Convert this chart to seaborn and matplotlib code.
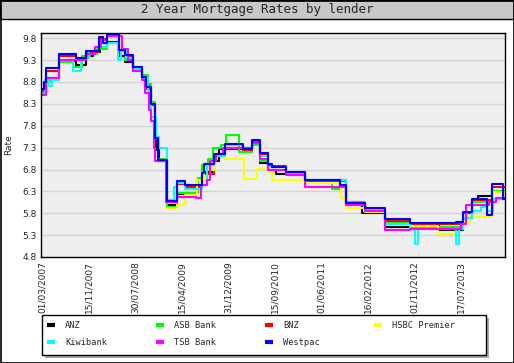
import pandas as pd
import matplotlib
matplotlib.use("Agg")
import matplotlib.pyplot as plt
from matplotlib.lines import Line2D
from matplotlib.patches import Rectangle
import seaborn as sns

# lenders and colours (legend order = drawing order)
lenders = ["ANZ", "ASB Bank", "BNZ", "HSBC Premier", "Kiwibank", "TSB Bank", "Westpac"]
colors = ["#000000", "#00ff00", "#ff0000", "#ffff00", "#00ffff", "#ff00ff", "#0000ff"]

# step series: date of rate change, new 2 year rate
anz_dates = ["2007-03-01", "2007-03-22", "2007-06-04", "2007-09-08", "2007-10-30", "2007-12-10",
             "2008-01-15", "2008-02-26", "2008-05-04", "2008-06-06", "2008-07-21", "2008-09-09",
             "2008-10-01", "2008-10-24", "2008-11-15", "2008-11-25", "2008-12-10", "2009-01-26",
             "2009-03-22", "2009-07-10", "2009-08-19", "2009-10-14", "2009-11-10", "2010-03-19",
             "2010-05-08", "2010-06-22", "2010-08-05", "2010-09-20", "2011-02-27", "2011-10-14",
             "2012-01-10", "2012-05-18", "2012-10-07", "2013-03-15", "2013-07-24", "2013-09-12",
             "2013-10-20", "2014-01-02", "2014-03-17"]
anz_rates = [8.55, 8.88, 9.27, 9.18, 9.40, 9.48,
             9.60, 9.72, 9.40, 9.25, 9.05, 8.92,
             8.70, 8.30, 7.50, 7.25, 7.02, 6.00,
             6.25, 6.55, 6.75, 7.00, 7.28, 7.30,
             7.40, 6.95, 6.78, 6.70, 6.55, 6.05,
             5.80, 5.48, 5.52, 5.42, 5.70, 6.05,
             6.20, 6.32, 6.32]

asb_dates = ["2007-03-01", "2007-03-22", "2007-04-15", "2007-06-04", "2007-08-20", "2007-10-10",
             "2007-11-20", "2008-01-01", "2008-02-26", "2008-05-04", "2008-06-06", "2008-07-21",
             "2008-09-09", "2008-10-10", "2008-10-24", "2008-11-20", "2008-12-02", "2009-01-26",
             "2009-03-22", "2009-07-15", "2009-08-08", "2009-09-10", "2009-10-05", "2009-11-20",
             "2009-12-20", "2010-03-01", "2010-05-08", "2010-06-22", "2010-08-05", "2010-11-14",
             "2011-02-27", "2011-08-01", "2011-09-10", "2011-10-14", "2012-01-28", "2012-05-18",
             "2012-10-07", "2013-07-24", "2013-09-12", "2014-01-02", "2014-03-17"]
asb_rates = [8.55, 8.80, 8.90, 9.25, 9.15, 9.40,
             9.45, 9.55, 9.70, 9.50, 9.30, 9.15,
             8.95, 8.75, 8.35, 7.55, 7.05, 5.95,
             6.27, 6.60, 6.90, 7.05, 7.30, 7.35,
             7.60, 7.20, 7.35, 7.00, 6.78, 6.70,
             6.50, 6.35, 6.45, 6.05, 5.90, 5.60,
             5.48, 5.70, 6.05, 6.30, 6.30]

bnz_dates = ["2007-03-01", "2007-03-22", "2007-06-04", "2007-09-08", "2007-10-30", "2008-01-09",
             "2008-02-26", "2008-05-04", "2008-06-06", "2008-07-21", "2008-09-09", "2008-10-01",
             "2008-10-24", "2008-11-15", "2008-12-02", "2009-01-26", "2009-03-22", "2009-05-06",
             "2009-08-08", "2009-10-14", "2009-12-09", "2010-03-19", "2010-05-08", "2010-06-22",
             "2010-08-05", "2010-11-14", "2011-02-27", "2011-10-14", "2012-01-28", "2012-05-18",
             "2012-10-07", "2013-07-24", "2013-09-12", "2014-01-02", "2014-03-17"]
bnz_rates = [8.60, 9.05, 9.40, 9.32, 9.48, 9.78,
             9.85, 9.50, 9.38, 9.10, 8.88, 8.65,
             8.28, 7.50, 7.00, 6.05, 6.48, 6.40,
             6.70, 7.12, 7.35, 7.24, 7.44, 7.15,
             6.88, 6.72, 6.54, 6.00, 5.88, 5.63,
             5.55, 5.80, 6.10, 6.40, 6.40]

hsbc_dates = ["2009-01-26", "2009-03-22", "2009-05-06", "2009-07-10", "2009-08-19", "2009-10-14",
              "2009-12-05", "2010-03-25", "2010-06-10", "2010-08-05", "2010-08-28", "2011-02-27",
              "2011-09-15", "2011-10-14", "2012-01-28", "2012-05-18", "2012-10-07", "2013-03-10",
              "2013-06-15", "2013-07-24", "2013-09-05", "2014-01-02", "2014-03-17"]
hsbc_rates = [5.92, 6.00, 6.22, 6.55, 6.80, 7.14,
              7.05, 6.58, 6.82, 6.75, 6.57, 6.50,
              6.15, 5.93, 5.82, 5.55, 5.50, 5.33,
              5.45, 5.60, 5.72, 6.28, 6.28]

kiwi_dates = ["2007-03-01", "2007-03-15", "2007-04-10", "2007-04-25", "2007-06-04", "2007-08-20",
              "2007-10-05", "2007-11-15", "2008-01-10", "2008-02-26", "2008-04-25", "2008-05-10",
              "2008-06-10", "2008-07-21", "2008-09-09", "2008-10-10", "2008-10-24", "2008-11-25",
              "2008-12-10", "2009-01-26", "2009-03-01", "2009-03-22", "2009-05-06", "2009-08-08",
              "2009-09-01", "2009-10-14", "2009-12-09", "2010-03-19", "2010-05-08", "2010-06-22",
              "2010-08-05", "2010-11-14", "2011-02-27", "2011-10-14", "2012-01-28", "2012-05-18",
              "2012-10-07", "2012-10-30", "2012-11-20", "2013-05-20", "2013-06-15", "2013-07-05",
              "2013-07-24", "2013-09-12", "2013-11-01", "2013-12-05", "2014-01-10", "2014-03-17"]
kiwi_rates = [8.50, 8.85, 8.70, 8.85, 9.30, 9.05,
              9.35, 9.50, 9.60, 9.70, 9.30, 9.50,
              9.35, 9.10, 8.90, 8.55, 8.00, 7.55,
              7.30, 6.10, 6.40, 6.50, 6.35, 6.45,
              6.90, 7.10, 7.35, 7.30, 7.40, 7.10,
              6.85, 6.73, 6.55, 6.00, 5.88, 5.55,
              5.45, 5.10, 5.45, 5.45, 5.10, 5.45,
              5.70, 5.85, 5.95, 5.85, 6.12, 6.12]

tsb_dates = ["2007-03-01", "2007-03-22", "2007-06-04", "2007-10-30", "2007-12-20", "2008-01-20",
             "2008-02-26", "2008-05-20", "2008-06-20", "2008-07-21", "2008-09-09", "2008-09-25",
             "2008-10-15", "2008-10-24", "2008-11-10", "2008-11-20", "2009-01-20", "2009-03-20",
             "2009-07-01", "2009-08-01", "2009-09-01", "2009-09-20", "2009-10-20", "2009-12-01",
             "2010-03-19", "2010-05-08", "2010-06-22", "2010-08-05", "2010-11-14", "2011-02-27",
             "2011-10-14", "2012-01-28", "2012-05-18", "2012-10-07", "2013-07-15", "2013-08-15",
             "2013-12-20", "2014-01-25", "2014-03-17"]
tsb_rates = [8.50, 8.90, 9.30, 9.45, 9.60, 9.75,
             9.85, 9.55, 9.30, 9.05, 8.85, 8.55,
             8.15, 7.90, 7.30, 7.00, 6.05, 6.18,
             6.15, 6.45, 6.55, 7.00, 7.15, 7.30,
             7.30, 7.40, 7.05, 6.80, 6.68, 6.40,
             5.98, 5.85, 5.42, 5.45, 5.55, 5.98,
             6.05, 6.15, 6.15]

westpac_dates = ["2007-03-01", "2007-03-12", "2007-03-22", "2007-06-04", "2007-09-08", "2007-10-30",
                 "2008-01-09", "2008-02-04", "2008-02-26", "2008-05-04", "2008-06-06", "2008-07-21",
                 "2008-09-09", "2008-10-01", "2008-10-24", "2008-11-15", "2008-12-02", "2009-01-26",
                 "2009-03-22", "2009-05-06", "2009-08-08", "2009-08-19", "2009-10-14", "2009-12-09",
                 "2010-03-19", "2010-05-08", "2010-06-22", "2010-08-05", "2010-08-28", "2010-11-14",
                 "2011-02-27", "2011-09-10", "2011-10-14", "2012-01-28", "2012-05-18", "2012-10-07",
                 "2013-06-15", "2013-07-24", "2013-09-12", "2013-12-05", "2014-01-02", "2014-03-04",
                 "2014-03-17"]
westpac_rates = [8.65, 8.80, 9.11, 9.45, 9.36, 9.51,
                 9.82, 9.70, 9.90, 9.53, 9.41, 9.14,
                 8.91, 8.68, 8.30, 7.53, 7.01, 6.09,
                 6.53, 6.44, 6.72, 6.93, 7.16, 7.39,
                 7.26, 7.47, 7.18, 6.92, 6.85, 6.74,
                 6.57, 6.45, 6.03, 5.91, 5.67, 5.58,
                 5.61, 5.82, 6.12, 5.77, 6.47, 6.13,
                 6.13]

# axis ticks
tick_dates = ["2007-03-01", "2007-11-15", "2008-07-30", "2009-04-15", "2009-12-31",
              "2010-09-15", "2011-06-01", "2012-02-16", "2012-11-01", "2013-07-17"]
tick_labels = ["01/03/2007", "15/11/2007", "30/07/2008", "15/04/2009", "31/12/2009",
               "15/09/2010", "01/06/2011", "16/02/2012", "01/11/2012", "17/07/2013"]
y_ticks = [4.8, 5.3, 5.8, 6.3, 6.8, 7.3, 7.8, 8.3, 8.8, 9.3, 9.8]

all_dates = [anz_dates, asb_dates, bnz_dates, hsbc_dates, kiwi_dates, tsb_dates, westpac_dates]
all_rates = [anz_rates, asb_rates, bnz_rates, hsbc_rates, kiwi_rates, tsb_rates, westpac_rates]

frames = []
for name, d, r in zip(lenders, all_dates, all_rates):
    frames.append(pd.DataFrame({"lender": name, "date": pd.to_datetime(d), "rate": r}))
df = pd.concat(frames, ignore_index=True)

sns.set_style("white")
plt.rcParams["font.family"] = ["DejaVu Sans"]

W, H = 514, 363
fig = plt.figure(figsize=(W / 100, H / 100), dpi=100)
fig.patch.set_facecolor("white")

ax = fig.add_axes([41 / W, 1 - 257 / H, 464 / W, 224 / H])
ax.set_facecolor("#efefef")

sns.lineplot(data=df, x="date", y="rate", hue="lender", hue_order=lenders,
             palette=colors, drawstyle="steps-post", linewidth=1.5,
             estimator=None, legend=False, ax=ax)

ax.set_xlim(pd.Timestamp("2007-02-23"), pd.Timestamp("2014-03-17"))
ax.set_ylim(4.8, 9.92)

major = pd.to_datetime(tick_dates)
ax.set_xticks(major)
ax.set_xticklabels(tick_labels, rotation=90, fontsize=6.5)
minor = []
for a, b in zip(major[:-1], major[1:]):
    minor += list(pd.date_range(a, b, periods=11)[1:-1])
last = major[-1]
step = (major[1] - major[0]) / 10
while last + step < pd.Timestamp("2014-03-17"):
    last = last + step
    minor.append(last)
ax.set_xticks(minor, minor=True)

ax.set_yticks(y_ticks)
ax.set_yticklabels([f"{v:.1f}" for v in y_ticks], fontsize=6.5)
ax.set_yticks([4.8 + 0.1 * i for i in range(52)], minor=True)

ax.tick_params(which="both", direction="in", color="black", width=0.8)
ax.tick_params(which="major", length=4, pad=3)
ax.tick_params(which="minor", length=2.5)
ax.yaxis.grid(True, color="#d4d4d4", linewidth=1)
ax.set_axisbelow(True)
for s in ax.spines.values():
    s.set_color("black")
    s.set_linewidth(1)
ax.set_xlabel("")
ax.set_ylabel("")
fig.text(9 / W, 1 - 145 / H, "Rate", rotation=90, ha="center", va="center", fontsize=6.5)

# title bar and outer frame
fig.patches.append(Rectangle((0, 1 - 19 / H), 1, 19 / H, transform=fig.transFigure,
                             facecolor="#c8c8c8", edgecolor="black", linewidth=1))
fig.patches.append(Rectangle((0.5 / W, 0.5 / H), 1 - 1 / W, 1 - 1 / H, transform=fig.transFigure,
                             fill=False, edgecolor="black", linewidth=1.2))
fig.text(0.5, 1 - 10 / H, "2 Year Mortgage Rates by lender", ha="center", va="center",
         fontsize=9, family="DejaVu Sans Mono")

# legend box with drop shadow, then one small legend per column
fig.patches.append(Rectangle((45 / W, 1 - 358 / H), 444 / W, 40 / H, transform=fig.transFigure,
                             facecolor="#a8a8a8", edgecolor="none", zorder=1))
fig.patches.append(Rectangle((42 / W, 1 - 355 / H), 444 / W, 40 / H, transform=fig.transFigure,
                             facecolor="white", edgecolor="black", linewidth=1, zorder=2))
col_x = [47, 156, 265, 374]
columns = [[0, 4], [1, 5], [2, 6], [3]]
for x0, idx in zip(col_x, columns):
    hs = [Line2D([0], [0], color=colors[i], linewidth=3, solid_capstyle="butt") for i in idx]
    fig.legend(hs, [lenders[i] for i in idx], loc="upper left",
               bbox_to_anchor=(x0 / W, 1 - 321 / H), frameon=False,
               prop={"family": "DejaVu Sans Mono", "size": 6.2},
               handlelength=0.9, handletextpad=1.2, labelspacing=0.93,
               borderpad=0.0, borderaxespad=0.0)

plt.savefig("out.png", dpi=100)
